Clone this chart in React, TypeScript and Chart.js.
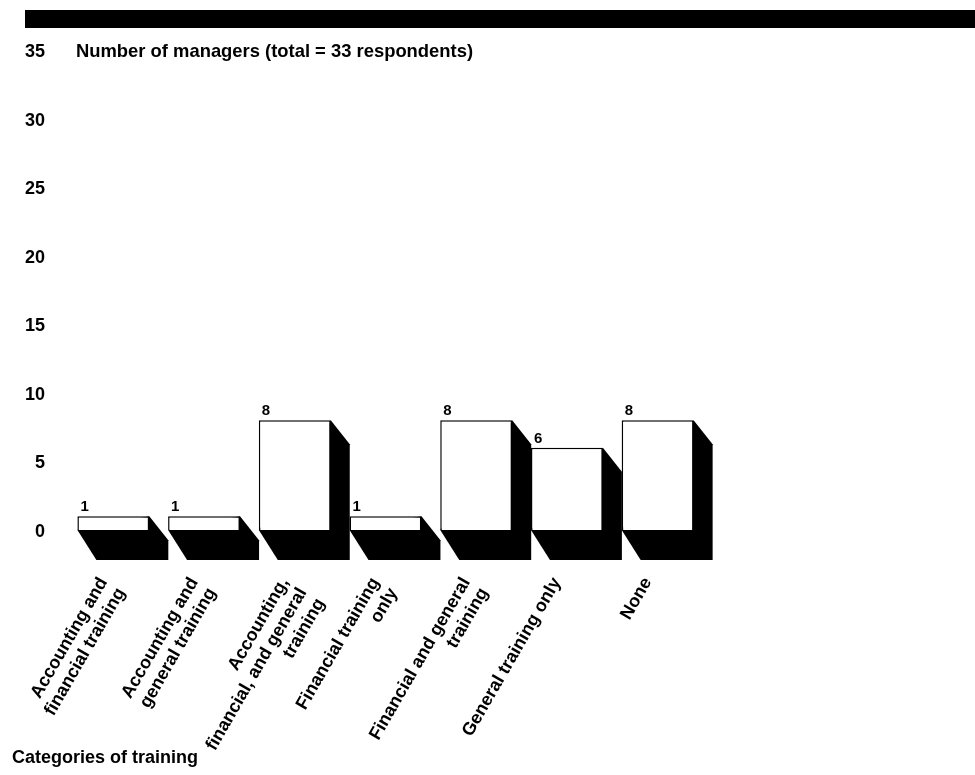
import React, { useEffect, useRef } from "react";
import { Chart, registerables } from "chart.js";

Chart.register(...registerables);

const categories: (string | string[])[] = [
  ["Accounting and", "financial training"],
  ["Accounting and", "general training"],
  ["Accounting,", "financial, and general", "training"],
  ["Financial training", "only"],
  ["Financial and general", "training"],
  "General training only",
  "None",
];
const managers = [1, 1, 8, 1, 8, 6, 8];
const yMin = 0;
const yMax = 35;
const yStep = 5;
const chartTitle = "Number of managers (total = 33 respondents)";
const xAxisTitle = "Categories of training";

const FONT_FAMILY = "'Liberation Sans', Arial, Helvetica, sans-serif";
const DX = 19;
const DY = 30;
const DY_TOP = 24;

const decorPlugin = {
  id: "decor",
  beforeDraw(chart: any) {
    const ctx = chart.ctx;
    ctx.save();
    ctx.fillStyle = "#000";
    ctx.fillRect(25, 10, 950, 18);
    ctx.font = `bold 18.4px ${FONT_FAMILY}`;
    ctx.textAlign = "left";
    ctx.textBaseline = "middle";
    const yTop = chart.scales.y.getPixelForValue(yMax);
    ctx.fillText(chartTitle, 76, yTop + 2);
    ctx.font = `bold 18px ${FONT_FAMILY}`;
    ctx.textBaseline = "alphabetic";
    ctx.fillText(xAxisTitle, 12, 763);
    ctx.restore();
  },
  beforeDatasetsDraw(chart: any) {
    const ctx = chart.ctx;
    const meta = chart.getDatasetMeta(0);
    ctx.save();
    ctx.fillStyle = "#000";
    meta.data.forEach((bar: any) => {
      const { x, y, base, width } = bar.getProps(["x", "y", "base", "width"], true);
      const L = x - width / 2;
      const R = x + width / 2;
      ctx.beginPath();
      ctx.moveTo(L, base);
      ctx.lineTo(L + DX, base + DY);
      ctx.lineTo(R + DX, base + DY);
      ctx.lineTo(R + DX, y + DY_TOP);
      ctx.lineTo(R, y);
      ctx.closePath();
      ctx.fill();
    });
    ctx.restore();
  },
  afterDatasetsDraw(chart: any) {
    const ctx = chart.ctx;
    const meta = chart.getDatasetMeta(0);
    ctx.save();
    ctx.fillStyle = "#000";
    ctx.font = `bold 15px ${FONT_FAMILY}`;
    ctx.textAlign = "left";
    ctx.textBaseline = "alphabetic";
    meta.data.forEach((bar: any, i: number) => {
      const { x, y, width } = bar.getProps(["x", "y", "width"], true);
      ctx.fillText(String(managers[i]), x - width / 2 + 3, y - 5);
    });
    ctx.restore();
  },
};

export default function App() {
  const canvasRef = useRef<HTMLCanvasElement | null>(null);

  useEffect(() => {
    if (!canvasRef.current) return;
    const chart = new Chart(canvasRef.current, {
      type: "bar",
      data: {
        labels: categories,
        datasets: [
          {
            data: managers,
            backgroundColor: "#ffffff",
            borderColor: "#000000",
            borderWidth: 1.5,
            categoryPercentage: 0.793,
            barPercentage: 1,
          },
        ],
      },
      options: {
        animation: false,
        responsive: true,
        maintainAspectRatio: false,
        layout: { padding: { left: 0, right: 272, top: 50, bottom: 0 } },
        plugins: {
          legend: { display: false },
          tooltip: { enabled: false },
          title: { display: false },
        },
        scales: {
          x: {
            grid: { display: false, drawTicks: false },
            border: { display: false },
            ticks: {
              autoSkip: false,
              maxRotation: 60,
              minRotation: 60,
              padding: 44,
              labelOffset: -10,
              color: "#000",
              font: { family: FONT_FAMILY, size: 18, weight: "bold", lineHeight: 1.15 },
            },
            afterFit(scale: any) {
              scale.height = 245;
              scale.paddingLeft = 0;
              scale.paddingRight = 0;
            },
          },
          y: {
            min: yMin,
            max: yMax,
            grid: { display: false, drawTicks: false },
            border: { display: false },
            ticks: {
              stepSize: yStep,
              padding: 23,
              labelOffset: 2,
              color: "#000",
              font: { family: FONT_FAMILY, size: 18, weight: "bold" },
            },
            afterFit(scale: any) {
              scale.width = 68;
              scale.paddingTop = 0;
              scale.paddingBottom = 0;
            },
          },
        },
      },
      plugins: [decorPlugin],
    });
    return () => chart.destroy();
  }, []);

  return (
    <div style={{ position: "fixed", left: 0, top: 0, width: 975, height: 775, background: "#fff" }}>
      <canvas ref={canvasRef} />
    </div>
  );
}
